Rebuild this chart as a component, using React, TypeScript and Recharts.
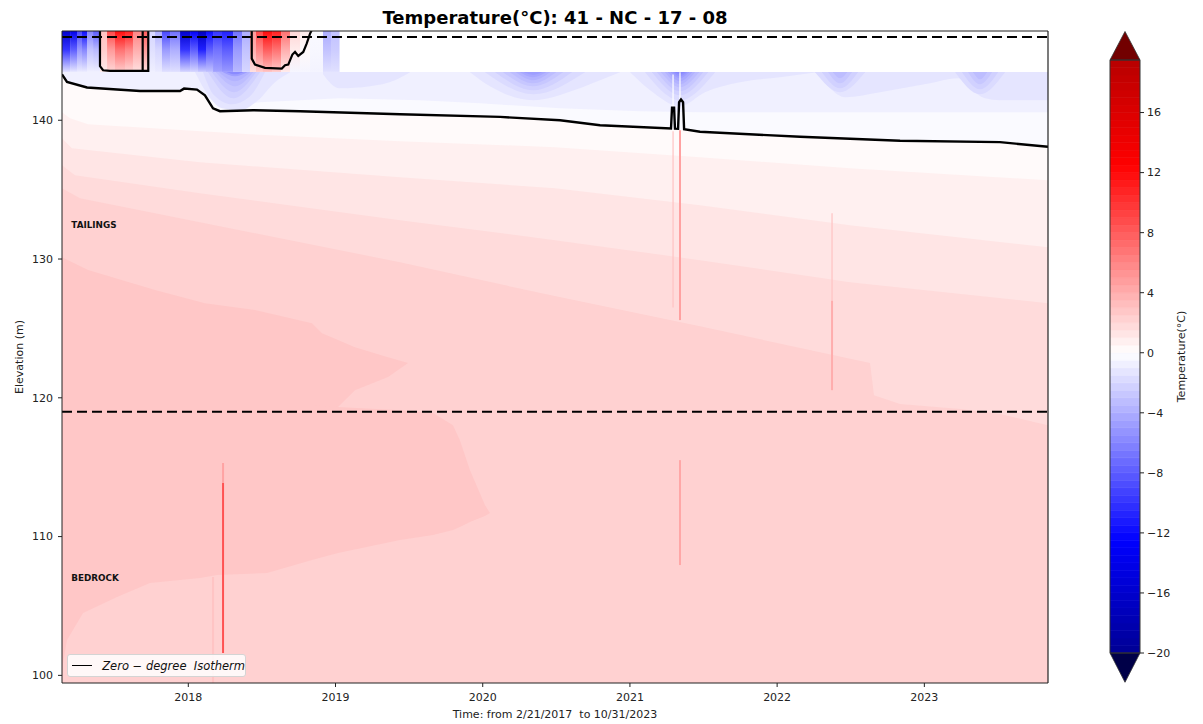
import React from 'react';
import {
  ComposedChart,
  Area,
  Line,
  XAxis,
  YAxis,
  ReferenceLine,
  ReferenceArea,
  ReferenceDot,
  Legend,
} from 'recharts';

type Pt = [number, number];
type Row3 = [number, number, number];

const FONT = '"DejaVu Sans", Verdana, sans-serif';

// ---------- axes / scale data ----------
const YEAR_TICKS = [2018, 2019, 2020, 2021, 2022, 2023];
const ELEVATION_TICKS = [100, 110, 120, 130, 140];
const TEMP_TICKS = [-20, -16, -12, -8, -4, 0, 4, 8, 12, 16];
const TIME_RANGE: [number, number] = [2017.142, 2023.84];
const ELEV_RANGE: [number, number] = [99.45, 146.43];
const SENSOR_TOP_LATE = 143.48; // upper limit of readings after early 2019
const COVER_SURFACE = 146.0; // upper dashed line
const TAILINGS_BOTTOM = 119.0; // lower dashed line
const LEVEL_MIN = -20;
const LEVEL_MAX = 19.5;
const LEVEL_STEP = 0.5;

// ---------- zero-degree isotherm (year, elevation) ----------
const ISOTHERM: Pt[] = [
  [2017.142, 143.31], [2017.176, 142.76], [2017.312, 142.36], [2017.516, 142.21],
  [2017.672, 142.11], [2017.944, 142.11], [2017.971, 142.28], [2018.059, 142.21],
  [2018.113, 141.8], [2018.168, 140.86], [2018.215, 140.65], [2018.44, 140.72],
  [2018.759, 140.65], [2019.438, 140.43], [2020.118, 140.24], [2020.525, 140.0],
  [2020.797, 139.64], [2021.279, 139.4], [2021.286, 140.91], [2021.3, 140.91],
  [2021.306, 139.39], [2021.327, 139.38], [2021.334, 141.3], [2021.347, 141.49],
  [2021.361, 141.3], [2021.368, 139.35], [2021.476, 139.17], [2022.156, 138.81],
  [2022.835, 138.52], [2023.514, 138.42], [2023.84, 138.09],
];
const ISOTHERM_BASE: Pt[] = ISOTHERM.filter(([x]) => x < 2021.28 || x > 2021.37);

// surface isotherm contours around the two warm (summer) pockets
const SUMMER_2017_A: Pt[] = [
  [2017.4, 146.7], [2017.4, 143.89], [2017.421, 143.6], [2017.468, 143.55],
  [2017.728, 143.55], [2017.728, 146.7],
];
const SUMMER_2017_B: Pt[] = [[2017.69, 146.7], [2017.69, 143.55]];
const SUMMER_2018: Pt[] = [
  [2018.431, 146.7], [2018.431, 144.44], [2018.453, 144.01], [2018.521, 143.77],
  [2018.635, 143.72], [2018.657, 143.96], [2018.679, 144.01], [2018.707, 144.73],
  [2018.725, 144.92], [2018.747, 144.63], [2018.781, 144.92], [2018.804, 145.52],
  [2018.827, 146.24], [2018.838, 146.48], [2018.85, 146.7],
];

// ---------- positive-temperature bands: lower region up to edge ----------
const EDGE_0_5: Pt[] = [
  [2017.142, 140.58], [2017.197, 140.14], [2017.319, 139.71], [2018.419, 138.99],
  [2019.438, 138.49], [2020.491, 138.06], [2021.476, 137.34], [2022.495, 136.54],
  [2023.84, 135.68],
];
const EDGE_1_0: Pt[] = [
  [2017.142, 138.7], [2017.21, 137.98], [2018.079, 136.98], [2019.438, 135.89],
  [2020.491, 135.1], [2021.476, 133.88], [2022.495, 132.44], [2023.84, 130.85],
];
const EDGE_1_5: Pt[] = [
  [2017.142, 136.76], [2017.23, 136.04], [2018.079, 134.74], [2019.438, 132.8],
  [2020.491, 131.36], [2021.476, 129.92], [2022.495, 128.33], [2023.84, 126.82],
];
const EDGE_2_0: Pt[] = [
  [2017.142, 135.1], [2017.264, 134.38], [2018.079, 132.65], [2019.438, 129.77],
  [2020.457, 127.4], [2021.476, 125.16], [2022.631, 122.5], [2022.658, 120.19],
  [2022.835, 119.55], [2023.243, 119.19], [2023.514, 118.83], [2023.84, 118.03],
];
const WARM_BANDS: { temp: number; edge: Pt[] }[] = [
  { temp: 0.25, edge: ISOTHERM_BASE },
  { temp: 0.75, edge: EDGE_0_5 },
  { temp: 1.25, edge: EDGE_1_0 },
  { temp: 1.75, edge: EDGE_1_5 },
  { temp: 2.25, edge: EDGE_2_0 },
];
// 2.5-3 °C lobes: [year, lower, upper]
const LOBE_TAILINGS: Row3[] = [
  [2017.142, 119.33, 130.13], [2017.319, 119.33, 129.2], [2017.774, 119.33, 127.76],
  [2018.113, 119.33, 126.82], [2018.453, 119.33, 126.32], [2018.84, 119.33, 125.38],
  [2018.908, 119.33, 124.66], [2019.017, 119.33, 124.16], [2019.132, 120.55, 123.65],
  [2019.357, 121.49, 122.93], [2019.493, 122.5, 122.5],
];
const LOBE_BEDROCK: Row3[] = [
  [2017.142, 99.45, 119.45], [2017.149, 100.89, 119.45], [2017.176, 102.55, 119.45],
  [2017.285, 104.49, 119.45], [2017.516, 105.65, 119.45], [2017.74, 106.65, 119.45],
  [2018.079, 107.01, 119.45], [2018.195, 107.23, 119.45], [2018.535, 107.37, 119.45],
  [2018.84, 108.31, 119.45], [2019.017, 108.81, 119.33], [2019.438, 109.75, 119.11],
  [2019.662, 110.11, 118.9], [2019.798, 110.47, 118.03], [2019.845, 110.69, 116.95],
  [2019.913, 111.05, 114.79], [2020.015, 111.48, 112.27], [2020.049, 111.7, 111.7],
];

// ---------- frozen bands: from edge up to sensor top ----------
const FROZEN_BASE: Pt[] = [[2017.142, 99.45], [2023.84, 99.45]];
const EDGE_M0_5: Pt[] = [
  [2017.142, 142.02], [2018.079, 142.02], [2018.161, 141.44], [2018.283, 141.01],
  [2018.487, 141.3], [2018.759, 141.44], [2019.026, 141.58], [2019.574, 141.44],
  [2019.982, 141.22], [2020.525, 140.86], [2021.069, 140.65], [2021.476, 140.58],
  [2023.84, 140.58],
];
const FROZEN_LAYERS: { temp: number; edge: Pt[]; curve?: 'monotone' }[] = [
  { temp: -0.25, edge: FROZEN_BASE },
  { temp: -0.75, edge: EDGE_M0_5 },
  // winter 2018 plume
  { temp: -1.25, edge: [[2018.046, 143.46], [2018.113, 142.16], [2018.229, 140.86], [2018.351, 140.72], [2018.474, 141.44], [2018.589, 142.74], [2018.691, 143.46]], curve: 'monotone' },
  { temp: -1.75, edge: [[2018.1, 143.46], [2018.175, 141.8], [2018.297, 141.15], [2018.419, 141.73], [2018.521, 143.46]], curve: 'monotone' },
  { temp: -2.25, edge: [[2018.134, 143.46], [2018.304, 141.58], [2018.487, 143.46]], curve: 'monotone' },
  { temp: -2.75, edge: [[2018.161, 143.46], [2018.31, 142.02], [2018.46, 143.46]], curve: 'monotone' },
  { temp: -3.25, edge: [[2018.188, 143.46], [2018.317, 142.45], [2018.44, 143.46]], curve: 'monotone' },
  { temp: -3.75, edge: [[2018.209, 143.46], [2018.317, 142.81], [2018.419, 143.46]], curve: 'monotone' },
  { temp: -4.75, edge: [[2018.236, 143.46], [2018.317, 143.17], [2018.399, 143.46]], curve: 'monotone' },
  { temp: -5.75, edge: [[2018.263, 143.46], [2018.317, 143.31], [2018.372, 143.46]], curve: 'monotone' },
  // winter 2019 tail
  { temp: -1.25, edge: [[2018.915, 143.31], [2019.026, 142.3], [2019.234, 142.45], [2019.404, 142.88], [2019.506, 143.46]], curve: 'monotone' },
  // winter 2020
  { temp: -1.25, edge: [[2019.913, 143.46], [2020.049, 142.45], [2020.342, 141.44], [2020.62, 142.16], [2020.797, 142.88], [2020.933, 143.46]], curve: 'monotone' },
  { temp: -1.75, edge: [[2020.015, 143.46], [2020.342, 141.87], [2020.695, 143.46]], curve: 'monotone' },
  { temp: -2.25, edge: [[2020.084, 143.46], [2020.342, 142.16], [2020.607, 143.46]], curve: 'monotone' },
  { temp: -2.75, edge: [[2020.138, 143.46], [2020.342, 142.45], [2020.546, 143.46]], curve: 'monotone' },
  { temp: -3.25, edge: [[2020.185, 143.46], [2020.342, 142.66], [2020.498, 143.46]], curve: 'monotone' },
  { temp: -3.75, edge: [[2020.226, 143.46], [2020.342, 142.88], [2020.457, 143.46]], curve: 'monotone' },
  { temp: -4.25, edge: [[2020.253, 143.46], [2020.342, 143.1], [2020.43, 143.46]], curve: 'monotone' },
  { temp: -4.75, edge: [[2020.281, 143.46], [2020.342, 143.28], [2020.403, 143.46]], curve: 'monotone' },
  // winter 2021
  { temp: -1.25, edge: [[2021.001, 143.46], [2021.137, 142.16], [2021.34, 141.01], [2021.51, 142.02], [2021.748, 142.74], [2022.02, 143.1], [2022.271, 143.46]], curve: 'monotone' },
  { temp: -1.75, edge: [[2021.103, 143.46], [2021.34, 141.44], [2021.578, 143.46]], curve: 'monotone' },
  { temp: -2.25, edge: [[2021.15, 143.46], [2021.34, 141.8], [2021.531, 143.46]], curve: 'monotone' },
  { temp: -2.75, edge: [[2021.184, 143.46], [2021.34, 142.09], [2021.497, 143.46]], curve: 'monotone' },
  { temp: -3.25, edge: [[2021.211, 143.46], [2021.34, 142.38], [2021.47, 143.46]], curve: 'monotone' },
  { temp: -3.75, edge: [[2021.238, 143.46], [2021.34, 142.59], [2021.442, 143.46]], curve: 'monotone' },
  { temp: -4.25, edge: [[2021.259, 143.46], [2021.34, 142.81], [2021.422, 143.46]], curve: 'monotone' },
  { temp: -4.75, edge: [[2021.279, 143.46], [2021.34, 143.02], [2021.401, 143.46]], curve: 'monotone' },
  { temp: -5.25, edge: [[2021.293, 143.46], [2021.34, 143.17], [2021.388, 143.46]], curve: 'monotone' },
  { temp: -5.75, edge: [[2021.306, 143.46], [2021.34, 143.31], [2021.374, 143.46]], curve: 'monotone' },
  // winters 2022 and 2023
  { temp: -1.25, edge: [[2022.271, 143.46], [2022.359, 142.3], [2022.461, 141.66], [2022.699, 142.02], [2023.039, 142.66], [2023.229, 143.02], [2023.311, 142.3], [2023.412, 141.58], [2023.514, 141.44], [2023.84, 141.44]], curve: 'monotone' },
  { temp: -1.75, edge: [[2022.258, 143.46], [2022.427, 142.02], [2022.597, 143.46]], curve: 'monotone' },
  { temp: -2.25, edge: [[2022.305, 143.46], [2022.427, 142.3], [2022.549, 143.46]], curve: 'monotone' },
  { temp: -2.75, edge: [[2022.346, 143.46], [2022.427, 142.66], [2022.508, 143.46]], curve: 'monotone' },
  { temp: -3.25, edge: [[2022.38, 143.46], [2022.427, 143.02], [2022.475, 143.46]], curve: 'monotone' },
  { temp: -1.75, edge: [[2023.209, 143.46], [2023.378, 141.87], [2023.548, 143.46]], curve: 'monotone' },
  { temp: -2.25, edge: [[2023.256, 143.46], [2023.378, 142.23], [2023.501, 143.46]], curve: 'monotone' },
  { temp: -2.75, edge: [[2023.297, 143.46], [2023.378, 142.59], [2023.46, 143.46]], curve: 'monotone' },
  { temp: -3.25, edge: [[2023.331, 143.46], [2023.378, 142.95], [2023.426, 143.46]], curve: 'monotone' },
];

// ---------- near-surface readings 2017-2019: [from, to, tTop, tMid, tBottom] ----------
const SURFACE_COLUMNS: [number, number, number, number, number][] = [
  [2017.142, 2017.197, -16, -10, -1.5], [2017.197, 2017.244, -14, -8, -1.2],
  [2017.244, 2017.278, -9, -5, -1], [2017.278, 2017.312, -12, -6, -1],
  [2017.312, 2017.353, -6, -3, -0.8], [2017.353, 2017.4, -8, -3.5, -0.8],
  [2017.4, 2017.448, 3, 2.5, 1], [2017.448, 2017.502, 9, 5, 2],
  [2017.502, 2017.57, 12, 7, 2.5], [2017.57, 2017.624, 11, 6, 2],
  [2017.624, 2017.692, 6, 4, 1.5], [2017.692, 2017.726, 8, 5, 1.5],
  [2017.726, 2017.774, -2, -1.5, -0.8], [2017.774, 2017.821, -4, -2, -1],
  [2017.821, 2017.876, -9, -5, -1.5], [2017.876, 2017.944, -7, -4, -1.5],
  [2017.944, 2018.012, -16, -10, -2], [2018.012, 2018.066, -13, -8, -2],
  [2018.066, 2018.12, -17, -11, -2.5], [2018.12, 2018.168, -12, -8, -3],
  [2018.168, 2018.229, -10, -7, -4.5], [2018.229, 2018.304, -11, -8, -5],
  [2018.304, 2018.365, -7, -5, -3.5], [2018.365, 2018.419, -4, -3, -2],
  [2018.419, 2018.46, 5, 4, 1.5], [2018.46, 2018.507, 9, 6, 2.5],
  [2018.507, 2018.569, 12, 8, 3], [2018.569, 2018.63, 11, 7, 2.5],
  [2018.63, 2018.691, 7, 4, 1], [2018.691, 2018.759, 2, 1, -0.5],
  [2018.759, 2018.827, 1, 0.3, -0.5], [2018.827, 2018.915, -0.3, -0.4, -0.6],
  [2018.915, 2018.969, -4, -3, -1.5], [2018.969, 2019.026, -3, -2.5, -1.5],
];

// ---------- thin sensor artefacts: [year, from, to, temp] ----------
const WARM_STREAKS: [number, number, number, number][] = [
  [2018.168, 99.45, 107.09, 2.9],
  [2018.236, 101.61, 113.86, 8.5],
  [2018.236, 113.86, 115.3, 4.5],
  [2021.293, 126.5, 139.2, 3.0],
  [2021.34, 125.6, 139.28, 4.6],
  [2021.34, 107.95, 115.51, 4.3],
  [2022.373, 120.55, 127.0, 4.0],
  [2022.373, 127.0, 133.3, 3.0],
];
const COLD_GAPS: [number, number, number][] = [
  [2021.34, 141.5, 143.46],
  [2021.293, 141.0, 143.3],
];

// ---------- helpers ----------
function seismic(v: number): string {
  const n = Math.min(1, Math.max(0, (v + 25) / 50));
  let r = 0, g = 0, b = 0;
  if (n < 0.25) { const f = n / 0.25; b = 0.3 + 0.7 * f; }
  else if (n < 0.5) { const f = (n - 0.25) / 0.25; r = f; g = f; b = 1; }
  else if (n < 0.75) { const f = (n - 0.5) / 0.25; r = 1; g = 1 - f; b = 1 - f; }
  else { const f = (n - 0.75) / 0.25; r = 1 - 0.5 * f; }
  const h = (c: number) => Math.round(c * 255).toString(16).padStart(2, '0');
  return `#${h(r)}${h(g)}${h(b)}`;
}
const toRows = (edge: Pt[], top: number) => edge.map(([x, e]) => ({ x, r: [e, top] }));
const toBaseRows = (edge: Pt[], base: number) => edge.map(([x, e]) => ({ x, r: [base, e] }));
const toRangeRows = (rows: Row3[]) => rows.map(([x, lo, hi]) => ({ x, r: [lo, hi] }));
const toLineRows = (pts: Pt[]) => pts.map(([x, e]) => ({ x, e }));
const fmtTemp = (v: number) => (v < 0 ? `\u2212${Math.abs(v)}` : `${v}`);

const CBAR_BANDS: { lo: number; hi: number }[] = [];
for (let v = LEVEL_MIN; v < LEVEL_MAX - 1e-9; v += LEVEL_STEP) {
  CBAR_BANDS.push({ lo: v, hi: v + LEVEL_STEP });
}

const tickStyle = { fontSize: 11, fontFamily: FONT, fill: '#222' };
const AXIS_COLOR = '#222';

function band(key: string, data: any[], temp: number, curve: 'linear' | 'monotone' = 'linear', edgeStroke = false) {
  const c = seismic(temp);
  return (
    <Area
      key={key}
      data={data}
      dataKey="r"
      type={curve}
      fill={c}
      fillOpacity={1}
      stroke={edgeStroke ? c : 'none'}
      strokeWidth={edgeStroke ? 0.6 : 0}
      dot={false}
      activeDot={false}
      legendType="none"
      isAnimationActive={false}
    />
  );
}

const LegendBox = () => (
  <div
    style={{
      boxSizing: 'border-box', width: 179, height: 23, border: '1px solid #d4d4d4',
      borderRadius: 3, background: 'rgba(255,255,255,0.85)', display: 'flex',
      alignItems: 'center', fontFamily: FONT, fontSize: 11.5, fontStyle: 'italic', color: '#111',
    }}
  >
    <span style={{ display: 'inline-block', width: 22, borderTop: '1.8px solid #000', marginLeft: 4, marginRight: 10 }} />
    <span style={{ whiteSpace: 'pre' }}>{'Zero \u2212 degree  Isotherm'}</span>
  </div>
);

export default function App() {
  return (
    <div style={{ position: 'absolute', left: 0, top: 0, width: 1203, height: 724, background: '#fff' }}>
      <svg width={0} height={0} style={{ position: 'absolute' }}>
        <defs>
          {SURFACE_COLUMNS.map((c, i) => (
            <linearGradient id={`surf${i}`} key={i} x1="0" y1="0" x2="0" y2="1">
              <stop offset="0" stopColor={seismic(c[2])} />
              <stop offset="0.45" stopColor={seismic(c[3])} />
              <stop offset="1" stopColor={seismic(c[4])} />
            </linearGradient>
          ))}
        </defs>
      </svg>

      <svg width={1203} height={40} style={{ position: 'absolute', left: 0, top: 0 }}>
        <text x={555} y={24} textAnchor="middle" fontFamily={FONT} fontWeight="bold" fontSize={18} fill="#000">
          Temperature(°C): 41 - NC - 17 - 08
        </text>
      </svg>

      <div style={{ position: 'absolute', left: 0, top: 0 }}>
        <ComposedChart width={1070} height={724} margin={{ top: 31, right: 22, bottom: 0, left: 0 }}>
          <XAxis
            dataKey="x"
            type="number"
            domain={TIME_RANGE}
            ticks={YEAR_TICKS}
            allowDataOverflow
            height={41}
            tickSize={4}
            tickMargin={6}
            tick={tickStyle}
            tickLine={{ stroke: AXIS_COLOR }}
            axisLine={{ stroke: AXIS_COLOR }}
            label={{
              value: 'Time: from 2/21/2017\u00A0 to 10/31/2023',
              position: 'insideBottom',
              offset: 6,
              style: { fontSize: 11, fontFamily: FONT, fill: '#222' },
            }}
          />
          <YAxis
            type="number"
            domain={ELEV_RANGE}
            ticks={ELEVATION_TICKS}
            allowDataOverflow
            width={62}
            tickSize={4}
            tickMargin={5}
            tick={tickStyle}
            tickLine={{ stroke: AXIS_COLOR }}
            axisLine={{ stroke: AXIS_COLOR }}
            label={{
              value: 'Elevation (m)',
              angle: -90,
              position: 'insideLeft',
              offset: 19,
              style: { textAnchor: 'middle', fontSize: 11, fontFamily: FONT, fill: '#222' },
            }}
          />

          {FROZEN_LAYERS.map((l, i) => band(`f${i}`, toRows(l.edge, SENSOR_TOP_LATE), l.temp, l.curve || 'linear'))}
          {WARM_BANDS.map((b, i) => band(`w${i}`, toBaseRows(b.edge, ELEV_RANGE[0]), b.temp))}
          {band('lobeT', toRangeRows(LOBE_TAILINGS), 2.75)}
          {band('lobeB', toRangeRows(LOBE_BEDROCK), 2.75)}

          {SURFACE_COLUMNS.map((c, i) => (
            <ReferenceArea
              key={`sc${i}`}
              x1={c[0]}
              x2={c[1] + 0.0015}
              y1={SENSOR_TOP_LATE}
              y2={ELEV_RANGE[1]}
              fill={`url(#surf${i})`}
              fillOpacity={1}
              stroke="none"
            />
          ))}

          {WARM_STREAKS.map(([x, a, b, t], i) => (
            <ReferenceLine
              key={`ws${i}`}
              segment={[{ x, y: a }, { x, y: b }]}
              stroke={seismic(t)}
              strokeWidth={t > 2.95 && t < 3.05 ? 1.2 : 2}
            />
          ))}
          {COLD_GAPS.map(([x, a, b], i) => (
            <ReferenceLine key={`cg${i}`} segment={[{ x, y: a }, { x, y: b }]} stroke="#ffffff" strokeOpacity={0.75} strokeWidth={1.6} />
          ))}

          <ReferenceLine y={COVER_SURFACE} stroke="#000" strokeWidth={2} strokeDasharray="10 5" />
          <ReferenceLine y={TAILINGS_BOTTOM} stroke="#000" strokeWidth={2} strokeDasharray="10 5" />

          <Line data={toLineRows(SUMMER_2017_A)} dataKey="e" stroke="#000" strokeWidth={2.2} dot={false} activeDot={false} legendType="none" isAnimationActive={false} />
          <Line data={toLineRows(SUMMER_2017_B)} dataKey="e" stroke="#000" strokeWidth={2.2} dot={false} activeDot={false} legendType="none" isAnimationActive={false} />
          <Line data={toLineRows(SUMMER_2018)} dataKey="e" stroke="#000" strokeWidth={2.2} dot={false} activeDot={false} legendType="none" isAnimationActive={false} />
          <Line
            data={toLineRows(ISOTHERM)}
            dataKey="e"
            name="Zero-degree Isotherm"
            stroke="#000"
            strokeWidth={2.4}
            dot={false}
            activeDot={false}
            isAnimationActive={false}
          />

          <ReferenceLine y={ELEV_RANGE[1]} stroke={AXIS_COLOR} strokeWidth={1.2} />
          <ReferenceLine x={TIME_RANGE[1]} stroke={AXIS_COLOR} strokeWidth={1.2} />

          <ReferenceDot
            x={2017.202}
            y={132.47}
            r={0.5}
            fill="none"
            stroke="none"
            label={{ value: 'TAILINGS', position: 'right', offset: 0, style: { fontSize: 8.8, fontWeight: 'bold', fontFamily: FONT, fill: '#111' } }}
          />
          <ReferenceDot
            x={2017.202}
            y={107.05}
            r={0.5}
            fill="none"
            stroke="none"
            label={{ value: 'BEDROCK', position: 'right', offset: 0, style: { fontSize: 8.8, fontWeight: 'bold', fontFamily: FONT, fill: '#111' } }}
          />

          <Legend
            layout="horizontal"
            verticalAlign="middle"
            align="center"
            wrapperStyle={{ position: 'absolute', left: 67, top: 654, width: 179, height: 23 }}
            content={() => <LegendBox />}
          />
        </ComposedChart>
      </div>

      <div style={{ position: 'absolute', left: 1060, top: 0 }}>
        <ComposedChart width={140} height={724} margin={{ top: 60, right: 0, bottom: 71, left: 50 }}>
          <XAxis dataKey="x" type="number" domain={[0, 1]} hide />
          <YAxis
            type="number"
            orientation="right"
            domain={[LEVEL_MIN, LEVEL_MAX]}
            ticks={TEMP_TICKS}
            width={60}
            tickSize={4}
            tickMargin={3}
            axisLine={false}
            tickLine={{ stroke: AXIS_COLOR }}
            tick={tickStyle}
            tickFormatter={fmtTemp}
            label={{
              value: 'Temperature(°C)',
              angle: -90,
              position: 'insideRight',
              offset: 19,
              style: { textAnchor: 'middle', fontSize: 11, fontFamily: FONT, fill: '#222' },
            }}
          />
          {CBAR_BANDS.map((b, i) =>
            band(`cb${i}`, [{ x: 0, r: [b.lo, b.hi] }, { x: 1, r: [b.lo, b.hi] }], (b.lo + b.hi) / 2, 'linear', true),
          )}
          <ReferenceArea
            x1={0}
            x2={1}
            y1={LEVEL_MAX}
            y2={LEVEL_MAX + 1.9}
            ifOverflow="visible"
            shape={(p: any) => (
              <polygon
                points={`${p.x},${p.y + p.height} ${p.x + p.width},${p.y + p.height} ${p.x + p.width / 2},${p.y}`}
                fill="#720000"
                stroke="#333"
                strokeWidth={0.8}
              />
            )}
          />
          <ReferenceArea
            x1={0}
            x2={1}
            y1={LEVEL_MIN - 1.95}
            y2={LEVEL_MIN}
            ifOverflow="visible"
            shape={(p: any) => (
              <polygon
                points={`${p.x},${p.y} ${p.x + p.width},${p.y} ${p.x + p.width / 2},${p.y + p.height}`}
                fill="#000048"
                stroke="#333"
                strokeWidth={0.8}
              />
            )}
          />
          <ReferenceArea x1={0} x2={1} y1={LEVEL_MIN} y2={LEVEL_MAX} fill="none" fillOpacity={0} stroke="#333" strokeWidth={1} />
        </ComposedChart>
      </div>
    </div>
  );
}
